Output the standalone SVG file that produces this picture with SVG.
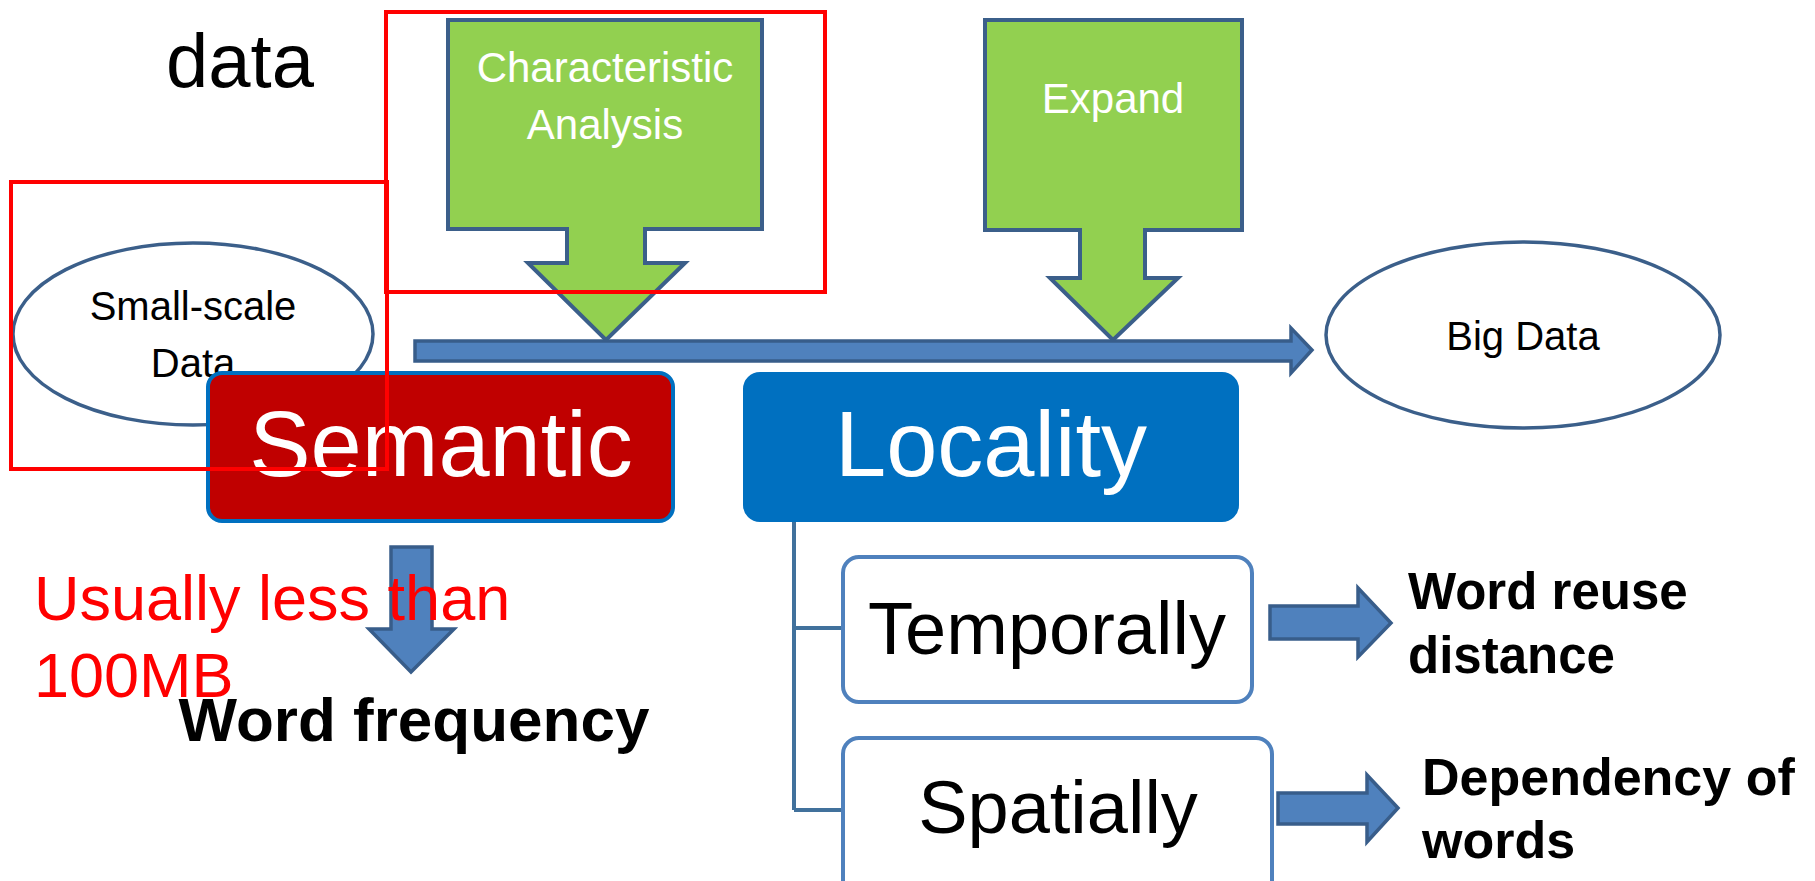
<svg xmlns="http://www.w3.org/2000/svg" width="1815" height="881" viewBox="0 0 1815 881">
<style>
.t{font-family:"Liberation Sans",Arial,sans-serif}
.green{fill:#92D050;stroke:#3B5F8A;stroke-width:4;stroke-linejoin:miter}
.blue{fill:#4F81BD;stroke:#385D8A;stroke-width:3.5}
.ell{fill:#FFFFFF;stroke:#3B5F8A;stroke-width:3.5}
.red{fill:none;stroke:#FF0000;stroke-width:4}
.sub{fill:#FFFFFF;stroke:#4F81BD;stroke-width:4}
</style>
<rect width="1815" height="881" fill="#FFFFFF"/>
<text class="t" x="240" y="87" font-size="76" text-anchor="middle" fill="#000">data</text>
<g id="connectors">
<path class="green" d="M448,20 H762 V229 H645 V263 H685 L606,340 L528,263 H567 V229 H448 Z"/>
<path class="green" d="M985,20 H1242 V230 H1145 V278 H1178 L1113,340 L1050,278 H1080 V230 H985 Z"/>
<path class="blue" d="M415,341 H1291 V328 L1312,350 L1291,373 V361 H415 Z"/>
<path class="blue" d="M391,547 H432 V629 H454 L411,672 L369,629 H391 Z"/>
<path class="blue" d="M1270,606 H1358 V588 L1391,623 L1358,657 V639 H1270 Z"/>
<path class="blue" d="M1278,793 H1367 V775 L1398,808 L1367,842 V824 H1278 Z"/>
<path d="M794,520 V810 M794,628 H843 M794,810 H843" fill="none" stroke="#41719C" stroke-width="4"/>
</g>
<g id="char-analysis">
<text class="t" x="605" y="82" font-size="42" text-anchor="middle" fill="#FFF">Characteristic</text>
<text class="t" x="605" y="139" font-size="42" text-anchor="middle" fill="#FFF">Analysis</text>
</g>
<g id="expand">
<text class="t" x="1113" y="113" font-size="42" text-anchor="middle" fill="#FFF">Expand</text>
</g>
<g id="small-data">
<ellipse class="ell" cx="193" cy="334" rx="180" ry="91"/>
<text class="t" x="193" y="320" font-size="40" text-anchor="middle" fill="#000">Small-scale</text>
<text class="t" x="193" y="377" font-size="40" text-anchor="middle" fill="#000">Data</text>
</g>
<g id="big-data">
<ellipse class="ell" cx="1523" cy="335" rx="197" ry="93"/>
<text class="t" x="1523" y="350" font-size="40" text-anchor="middle" fill="#000">Big Data</text>
</g>
<g id="semantic">
<rect x="208" y="373" width="465" height="148" rx="14" fill="#C00000" stroke="#0070C0" stroke-width="4"/>
<text class="t" x="441" y="476" font-size="92" text-anchor="middle" fill="#FFF">Semantic</text>
</g>
<g id="locality">
<rect x="744" y="373" width="494" height="148" rx="16" fill="#0070C0" stroke="#0070C0" stroke-width="2"/>
<text class="t" x="991" y="476" font-size="92" text-anchor="middle" fill="#FFF">Locality</text>
</g>
<g id="temporally">
<rect class="sub" x="843" y="557" width="409" height="145" rx="16"/>
<text class="t" x="1047" y="654" font-size="74" text-anchor="middle" fill="#000">Temporally</text>
</g>
<g id="spatially">
<rect class="sub" x="843" y="738" width="429" height="160" rx="16"/>
<text class="t" x="1058" y="833" font-size="74" text-anchor="middle" fill="#000">Spatially</text>
</g>
<g id="word-reuse">
<text class="t" x="1408" y="609" font-size="51" font-weight="bold" fill="#000">Word reuse</text>
<text class="t" x="1408" y="673" font-size="51" font-weight="bold" fill="#000">distance</text>
</g>
<g id="dependency">
<text class="t" x="1422" y="795" font-size="52" font-weight="bold" fill="#000">Dependency of</text>
<text class="t" x="1422" y="858" font-size="52" font-weight="bold" fill="#000">words</text>
</g>
<g id="usually">
<text class="t" x="34" y="620" font-size="63" fill="#FF0000">Usually less than</text>
<text class="t" x="34" y="697" font-size="63" fill="#FF0000">100MB</text>
</g>
<g id="word-frequency">
<text class="t" x="414" y="741" font-size="62" font-weight="bold" text-anchor="middle" fill="#000">Word frequency</text>
</g>
<g id="highlights">
<rect class="red" x="386" y="12" width="439" height="280"/>
<rect class="red" x="11" y="182" width="376" height="287"/>
</g>
</svg>
